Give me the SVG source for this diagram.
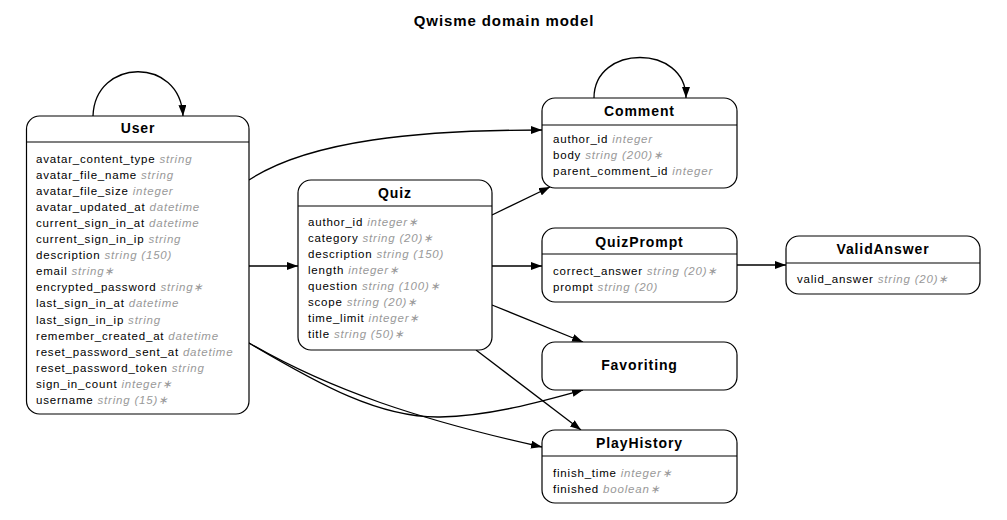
<svg xmlns="http://www.w3.org/2000/svg" width="1007" height="520" viewBox="0 0 1007 520">
<style>
text{font-family:"Liberation Sans",Arial,sans-serif;fill:#000}
.ttl{font-size:15px;font-weight:bold;letter-spacing:0.9px;text-anchor:middle}
.hd{font-size:14px;font-weight:bold;letter-spacing:0.9px;text-anchor:middle}
.a{font-size:11.5px;letter-spacing:0.8px}
.t{fill:#999;font-style:italic}
.box{fill:#fff;stroke:#000;stroke-width:1.2}
.sep{stroke:#000;stroke-width:1.2}
.e{fill:none;stroke:#000;stroke-width:1.3}
</style>
<defs>
<marker id="ar" markerUnits="userSpaceOnUse" markerWidth="11" markerHeight="8" refX="11" refY="4" orient="auto">
<path d="M0,0 L11,4 L0,8 z" fill="#000"/>
</marker>
</defs>
<rect width="1007" height="520" fill="#fff"/>
<text class="ttl" x="504" y="26">Qwisme domain model</text>

<g id="connectors">
<path class="e" d="M93,116 C95,58 180,56 183,116" marker-end="url(#ar)"/>
<path class="e" d="M594,98 C594,44 686,44 686,98" marker-end="url(#ar)"/>
<path class="e" d="M249,180 C310,140 420,130 542,130" marker-end="url(#ar)"/>
<path class="e" d="M249,266 L298,266" marker-end="url(#ar)"/>
<path class="e" d="M249,343 C320,385 380,418 440,417 C490,416 540,402 583,390" marker-end="url(#ar)"/>
<path class="e" d="M249,343 C330,390 420,420 542,447" marker-end="url(#ar)"/>
<path class="e" d="M492,215 L550,187" marker-end="url(#ar)"/>
<path class="e" d="M492,266 L542,266" marker-end="url(#ar)"/>
<path class="e" d="M737,265 L786,265" marker-end="url(#ar)"/>
<path class="e" d="M492,305 L583,342" marker-end="url(#ar)"/>
<path class="e" d="M476,350 L581,430" marker-end="url(#ar)"/>
</g>

<g id="User">
<rect class="box" x="26.5" y="116" width="222.5" height="298" rx="13"/>
<line class="sep" x1="26.5" y1="142" x2="249" y2="142"/>
<text class="hd" x="138" y="133">User</text>
<text class="a" x="36" y="162.5">avatar_content_type <tspan class="t">string</tspan></text>
<text class="a" x="36" y="178.6">avatar_file_name <tspan class="t">string</tspan></text>
<text class="a" x="36" y="194.7">avatar_file_size <tspan class="t">integer</tspan></text>
<text class="a" x="36" y="210.8">avatar_updated_at <tspan class="t">datetime</tspan></text>
<text class="a" x="36" y="226.9">current_sign_in_at <tspan class="t">datetime</tspan></text>
<text class="a" x="36" y="243">current_sign_in_ip <tspan class="t">string</tspan></text>
<text class="a" x="36" y="259.1">description <tspan class="t">string (150)</tspan></text>
<text class="a" x="36" y="275.2">email <tspan class="t">string∗</tspan></text>
<text class="a" x="36" y="291.3">encrypted_password <tspan class="t">string∗</tspan></text>
<text class="a" x="36" y="307.4">last_sign_in_at <tspan class="t">datetime</tspan></text>
<text class="a" x="36" y="323.5">last_sign_in_ip <tspan class="t">string</tspan></text>
<text class="a" x="36" y="339.6">remember_created_at <tspan class="t">datetime</tspan></text>
<text class="a" x="36" y="355.7">reset_password_sent_at <tspan class="t">datetime</tspan></text>
<text class="a" x="36" y="371.8">reset_password_token <tspan class="t">string</tspan></text>
<text class="a" x="36" y="387.9">sign_in_count <tspan class="t">integer∗</tspan></text>
<text class="a" x="36" y="404">username <tspan class="t">string (15)∗</tspan></text>
</g>

<g id="Quiz">
<rect class="box" x="298" y="180" width="194" height="170" rx="13"/>
<line class="sep" x1="298" y1="206" x2="492" y2="206"/>
<text class="hd" x="395" y="198">Quiz</text>
<text class="a" x="308" y="226">author_id <tspan class="t">integer∗</tspan></text>
<text class="a" x="308" y="242">category <tspan class="t">string (20)∗</tspan></text>
<text class="a" x="308" y="258">description <tspan class="t">string (150)</tspan></text>
<text class="a" x="308" y="274">length <tspan class="t">integer∗</tspan></text>
<text class="a" x="308" y="290">question <tspan class="t">string (100)∗</tspan></text>
<text class="a" x="308" y="306">scope <tspan class="t">string (20)∗</tspan></text>
<text class="a" x="308" y="322">time_limit <tspan class="t">integer∗</tspan></text>
<text class="a" x="308" y="338">title <tspan class="t">string (50)∗</tspan></text>
</g>

<g id="Comment">
<rect class="box" x="542" y="98" width="195" height="90" rx="13"/>
<line class="sep" x1="542" y1="125" x2="737" y2="125"/>
<text class="hd" x="639.5" y="116">Comment</text>
<text class="a" x="553" y="143">author_id <tspan class="t">integer</tspan></text>
<text class="a" x="553" y="159">body <tspan class="t">string (200)∗</tspan></text>
<text class="a" x="553" y="175">parent_comment_id <tspan class="t">integer</tspan></text>
</g>

<g id="QuizPrompt">
<rect class="box" x="542" y="228" width="195" height="74" rx="13"/>
<line class="sep" x1="542" y1="254" x2="737" y2="254"/>
<text class="hd" x="639.5" y="247">QuizPrompt</text>
<text class="a" x="553" y="275">correct_answer <tspan class="t">string (20)∗</tspan></text>
<text class="a" x="553" y="291">prompt <tspan class="t">string (20)</tspan></text>
</g>

<g id="ValidAnswer">
<rect class="box" x="786" y="236" width="194" height="58" rx="13"/>
<line class="sep" x1="786" y1="263" x2="980" y2="263"/>
<text class="hd" x="883" y="254">ValidAnswer</text>
<text class="a" x="797" y="283">valid_answer <tspan class="t">string (20)∗</tspan></text>
</g>

<g id="Favoriting">
<rect class="box" x="542" y="342" width="195" height="48" rx="13"/>
<text class="hd" x="639.5" y="370">Favoriting</text>
</g>

<g id="PlayHistory">
<rect class="box" x="542" y="430" width="195" height="73" rx="13"/>
<line class="sep" x1="542" y1="456" x2="737" y2="456"/>
<text class="hd" x="639.5" y="448">PlayHistory</text>
<text class="a" x="553" y="477">finish_time <tspan class="t">integer∗</tspan></text>
<text class="a" x="553" y="493">finished <tspan class="t">boolean∗</tspan></text>
</g>
</svg>
